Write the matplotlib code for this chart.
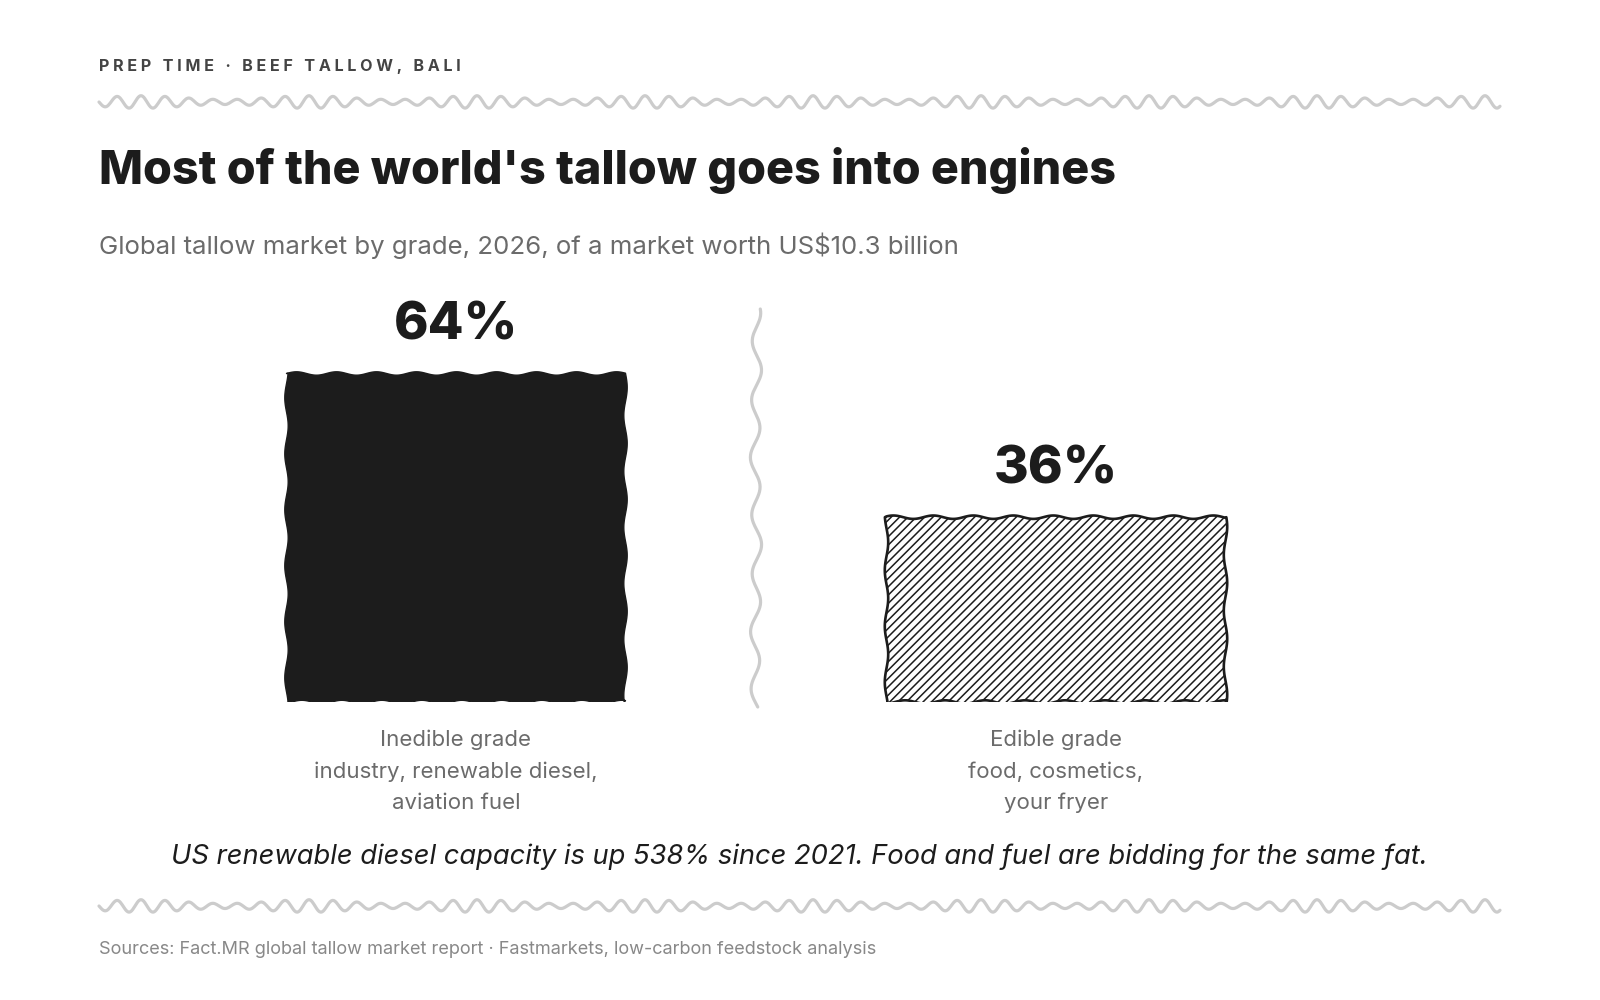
import numpy as np
import matplotlib.pyplot as plt
from matplotlib.patches import Polygon

# chart data
grades = ['Inedible grade', 'Edible grade']
uses_line1 = ['industry, renewable diesel,', 'food, cosmetics,']
uses_line2 = ['aviation fuel', 'your fryer']
shares = [64, 36]

kicker = 'PREP TIME · BEEF TALLOW, BALI'
title = "Most of the world's tallow goes into engines"
subtitle = 'Global tallow market by grade, 2026, of a market worth US$10.3 billion'
note = 'US renewable diesel capacity is up 538% since 2021. Food and fuel are bidding for the same fat.'
sources = 'Sources: Fact.MR global tallow market report · Fastmarkets, low-carbon feedstock analysis'

plt.rcParams['font.family'] = ['Inter', 'DejaVu Sans']
plt.rcParams['hatch.color'] = '#1c1c1c'
plt.rcParams['hatch.linewidth'] = 1.1

INK = '#1c1c1c'
GREY = '#6b6b6b'
WAVE = '#cccccc'

W, H = 1600, 1000
fig = plt.figure(figsize=(16, 10), dpi=100)
fig.patch.set_facecolor('white')

# full-figure axes in pixel units for the furniture
bg = fig.add_axes([0, 0, 1, 1])
bg.set_xlim(0, W)
bg.set_ylim(H, 0)
bg.axis('off')

renderer = fig.canvas.get_renderer()


def fit(t, width):
    w = t.get_window_extent(renderer).width
    t.set_fontsize(t.get_fontsize() * width / w)
    return t


# wavy rules
def h_wave(y, x0=99, x1=1500):
    xs = np.linspace(x0, x1, 1500)
    amp = 4.4 + 1.9 * np.sin(2 * np.pi * (xs - x0) / 168)
    ys = y + amp * np.sin(2 * np.pi * (xs - x0) / 24)
    bg.plot(xs, ys, color=WAVE, lw=2.3, solid_capstyle='round')


h_wave(102)
h_wave(906)

ys = np.linspace(309, 707, 500)
xs = 756 + 4.6 * np.sin(2 * np.pi * (ys - 309) / 58 + 1.2) + 1.0 * np.sin(2 * np.pi * (ys - 309) / 195)
bg.plot(xs, ys, color=WAVE, lw=2.3, solid_capstyle='round')

# header texts
fit(bg.text(99, 66, '\u2009\u200a'.join(kicker), fontsize=10, fontweight='bold', color='#444444',
            ha='left', va='center'), 362)
fit(bg.text(99, 170, title, fontsize=34, fontweight='heavy', color=INK,
            ha='left', va='center'), 1015)
fit(bg.text(99, 246, subtitle, fontsize=18, color=GREY,
            ha='left', va='center'), 860)

# bar axes: 0..80 % with 5.133 px per %, categories 600 px apart, baseline at 702 px
PX_Y = 5.133
PX_X = 600.0
ax_h = 80 * PX_Y
ax = fig.add_axes([(456 - PX_X / 2) / W, (H - 702) / H, 2 * PX_X / W, ax_h / H])
ax.set_xlim(-0.5, 1.5)
ax.set_ylim(0, 80)
ax.axis('off')

bar_w = 339 / PX_X


def wavy_bar(xc, v, amp=1.7, period=40, side_period=56, seed=0.0):
    x0, x1 = xc - bar_w / 2, xc + bar_w / 2
    n = 300
    tx = np.linspace(x0, x1, n)
    top = np.column_stack([tx, v + amp / PX_Y * np.sin(2 * np.pi * (tx - x0) * PX_X / period + seed)])
    ty = np.linspace(v, 0, n)
    right = np.column_stack([x1 + amp / PX_X * np.sin(2 * np.pi * (v - ty) * PX_Y / side_period + seed), ty])
    bx = np.linspace(x1, x0, n)
    bottom = np.column_stack([bx, amp / PX_Y * np.sin(2 * np.pi * (x1 - bx) * PX_X / period + seed + 1)])
    ly = np.linspace(0, v, n)
    left = np.column_stack([x0 + amp / PX_X * np.sin(2 * np.pi * ly * PX_Y / side_period + seed + 2), ly])
    return np.vstack([top, right, bottom, left])


styles = [dict(facecolor=INK, edgecolor=INK, lw=1.0),
          dict(facecolor='white', edgecolor=INK, lw=1.9, hatch='////')]

# label size fitted on the widest use line
probe = bg.text(0, 0, uses_line1[0], fontsize=15)
fit(probe, 283)
lab_size = probe.get_fontsize()
probe.remove()

for i, (v, st) in enumerate(zip(shares, styles)):
    ax.add_patch(Polygon(wavy_bar(i, v, seed=0.5 * i), closed=True, joinstyle='round', **st))
    t = ax.annotate(f'{v}%', (i, v), xytext=(0, 47 * 0.72), textcoords='offset points',
                    ha='center', va='center', fontsize=40, fontweight='heavy', color=INK)
    fit(t, 124)
    for k, line in enumerate([grades[i], uses_line1[i], uses_line2[i]]):
        ax.annotate(line, (i, 0), xytext=(0, -(38 + 31.5 * k) * 0.72), textcoords='offset points',
                    ha='center', va='center', fontsize=lab_size, color=GREY)

# footer
fit(bg.text(799, 857, note, fontsize=19, style='italic', color=INK,
            ha='center', va='center'), 1258)
fit(bg.text(99, 949, sources, fontsize=12.5, color='#888888',
            ha='left', va='center'), 781)

fig.savefig('out.png', dpi=100, facecolor='white')
